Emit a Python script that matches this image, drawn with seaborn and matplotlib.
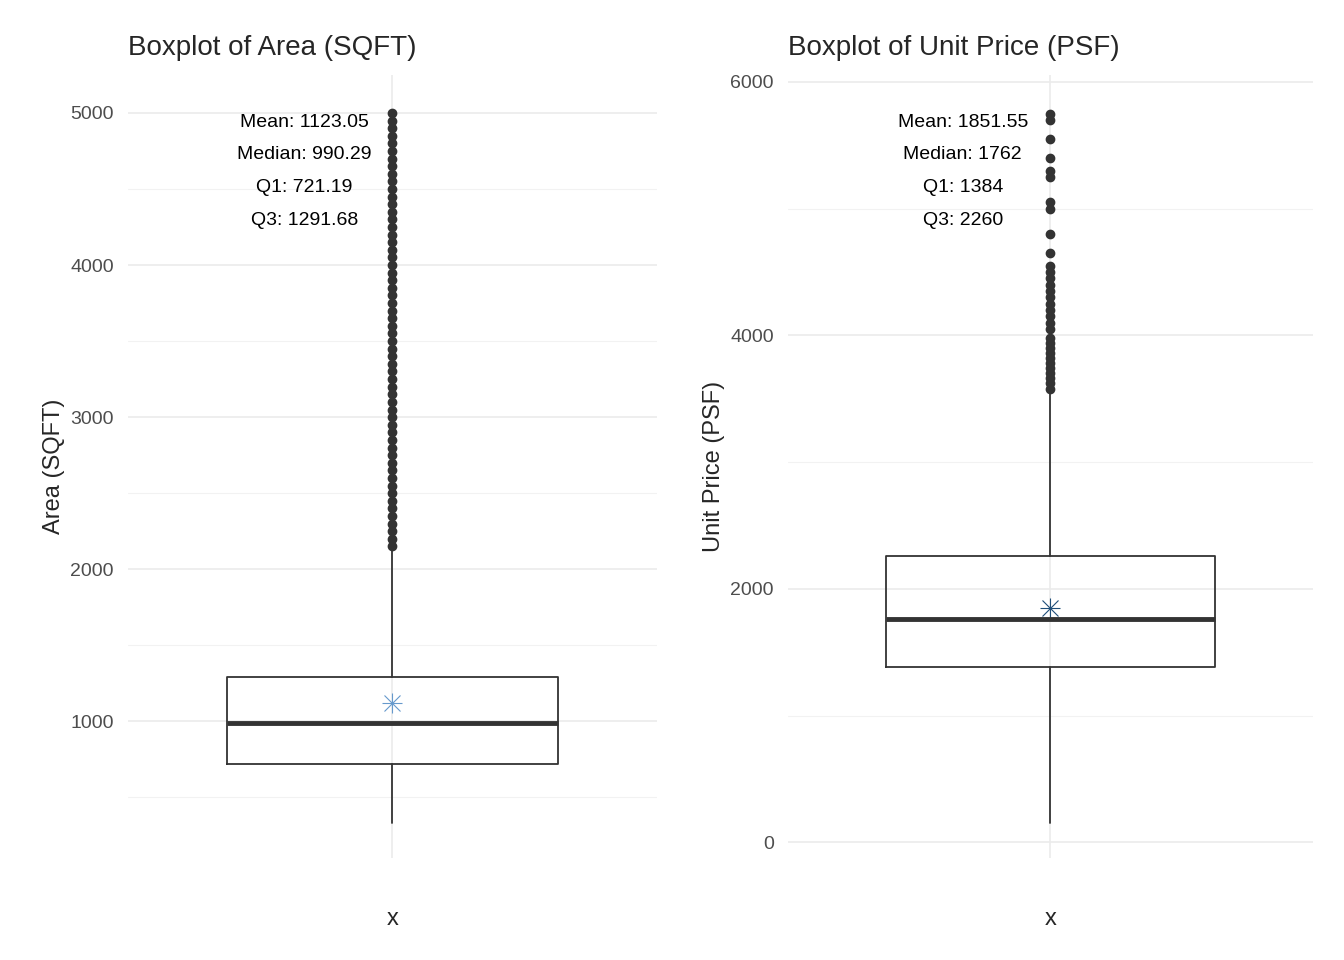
import matplotlib
matplotlib.use("Agg")
import matplotlib.pyplot as plt
import seaborn as sns

# summary values
area_stats = dict(label="", whislo=330, q1=721.19, med=990.29, q3=1291.68, whishi=2150, mean=1123.05)
area_fliers = [2150, 2200, 2250, 2300, 2350, 2400, 2450, 2500, 2550, 2600, 2650, 2700, 2750,
               2800, 2850, 2900, 2950, 3000, 3050, 3100, 3150, 3200, 3250, 3300, 3350, 3400,
               3450, 3500, 3550, 3600, 3650, 3700, 3750, 3800, 3850, 3900, 3950, 4000, 4050,
               4100, 4150, 4200, 4250, 4300, 4350, 4400, 4450, 4500, 4550, 4600, 4650, 4700,
               4750, 4800, 4850, 4900, 4950, 5000]
psf_stats = dict(label="", whislo=150, q1=1384, med=1762, q3=2260, whishi=3570, mean=1851.55)
psf_fliers = [3580, 3620, 3660, 3700, 3740, 3780, 3820, 3860, 3900, 3940, 3980, 4050, 4100,
              4150, 4200, 4250, 4300, 4350, 4400, 4450, 4500, 4550, 4650, 4800, 5000, 5050,
              5250, 5300, 5400, 5550, 5700, 5750]
area_labels = ["Mean: 1123.05", "Median: 990.29", "Q1: 721.19", "Q3: 1291.68"]
psf_labels = ["Mean: 1851.55", "Median: 1762", "Q1: 1384", "Q3: 2260"]

sns.set_style("white")
plt.rcParams['font.family'] = ['Liberation Sans', 'DejaVu Sans']

fig = plt.figure(figsize=(13.44, 9.6), dpi=100)
ax1 = fig.add_axes([0.095, 0.106, 0.394, 0.816])
ax2 = fig.add_axes([0.586, 0.106, 0.391, 0.816])

panels = [
    (ax1, area_stats, area_fliers, area_labels, "Boxplot of Area (SQFT)", "Area (SQFT)",
     (100, 5250), [1000, 2000, 3000, 4000, 5000], [500, 1500, 2500, 3500, 4500], "#6699CC"),
    (ax2, psf_stats, psf_fliers, psf_labels, "Boxplot of Unit Price (PSF)", "Unit Price (PSF)",
     (-126, 6055), [0, 2000, 4000, 6000], [1000, 3000, 5000], "#1F4E79"),
]

for ax, st, fl, labs, title, ylab, ylim, major, minor, mcol in panels:
    st = dict(st, fliers=fl)
    for v in major:
        ax.axhline(v, color="#EBEBEB", lw=1.2, zorder=0)
    for v in minor:
        ax.axhline(v, color="#F2F2F2", lw=0.8, zorder=0)
    ax.axvline(1, color="#EBEBEB", lw=1.2, zorder=0)
    ax.bxp([st], positions=[1], widths=0.75, showmeans=False, showcaps=False,
           boxprops=dict(color="#333333", lw=1.3),
           whiskerprops=dict(color="#333333", lw=1.3),
           medianprops=dict(color="#333333", lw=3.5),
           flierprops=dict(marker="o", markerfacecolor="#333333", markeredgecolor="#333333",
                           markersize=6))
    # asterisk mean marker
    ax.plot([1], [st["mean"]], marker="+", ms=15, color=mcol, mew=0.8, linestyle="none")
    ax.plot([1], [st["mean"]], marker="x", ms=11, color=mcol, mew=0.8, linestyle="none")
    for lab, yf in zip(labs, [0.939, 0.898, 0.856, 0.814]):
        ax.text((0.8 - 0.4) / 1.2, yf, lab, transform=ax.transAxes,
                ha="center", va="center", fontsize=14, color="black")
    ax.set_xlim(0.4, 1.6)
    ax.set_ylim(*ylim)
    ax.set_yticks(major)
    ax.set_xticks([])
    ax.tick_params(axis="y", labelsize=14, labelcolor="#4D4D4D", length=0, pad=10)
    ax.set_title(title, fontsize=20, loc="left", x=0.0, pad=14)
    ax.set_ylabel(ylab, fontsize=17)
    ax.set_xlabel("x", fontsize=17, labelpad=36)
    sns.despine(ax=ax, left=True, bottom=True)

fig.savefig("out.png", dpi=100)
